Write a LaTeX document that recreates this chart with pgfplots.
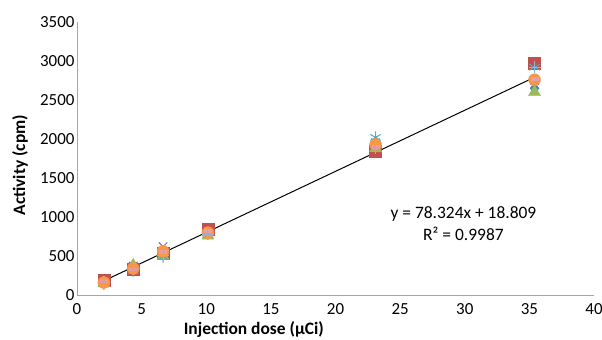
\documentclass[border=0pt]{standalone}
\usepackage{pgfplots}
\pgfplotsset{compat=1.18}
\usepackage{fontspec}
\setmainfont{Carlito}
\definecolor{s1}{HTML}{4F81BD}
\definecolor{s2}{HTML}{C0504D}
\definecolor{s3}{HTML}{9BBB59}
\definecolor{s4}{HTML}{8064A2}
\definecolor{s5}{HTML}{4BACC6}
\definecolor{s6}{HTML}{F79646}
\definecolor{s7}{HTML}{95B3D7}
\definecolor{s8}{HTML}{E6A0A0}
\definecolor{axgray}{HTML}{A6A6A6}
\begin{document}
\begin{tikzpicture}
\useasboundingbox (-77bp,-45bp) rectangle (525bp,295bp);
\begin{axis}[
  at={(0,0)}, anchor=origin,
  scale only axis, width=517bp, height=273bp,
  xmin=0, xmax=40, ymin=0, ymax=3500,
  xtick={0,5,...,40}, ytick={0,500,...,3500},
  axis x line*=bottom, axis y line*=left,
  axis line style={draw=axgray, line width=1pt, -},
  tick style={draw=none},
  ticklabel style={font=\fontsize{17}{19}\selectfont},
  xticklabel style={yshift=-5bp},
  yticklabel style={xshift=1bp},
  /pgf/number format/assume math mode=true,
  /pgf/number format/1000 sep={},
  xlabel={\textbf{Injection dose (µCi)}},
  ylabel={\textbf{Activity (cpm)}},
  label style={font=\fontsize{17.5}{19}\selectfont},
  xlabel style={at={(axis description cs:0.342,0)}, anchor=center, inner sep=0pt, yshift=-34.5bp},
  ylabel style={at={(axis description cs:-0.110,0.476)}, anchor=center, rotate=0},
  clip=false,
]
\addplot[only marks, mark=diamond*, mark size=6bp, color=s1] coordinates {(2.08,170) (4.35,340) (6.66,520) (10.13,800) (23.1,1900) (35.4,2650)};
\addplot[only marks, mark=square*, mark size=6bp, color=s2] coordinates {(2.08,190) (4.35,330) (6.66,540) (10.13,850) (23.1,1840) (35.4,2970)};
\addplot[only marks, mark=triangle*, mark size=7bp, color=s3] coordinates {(2.08,150) (4.35,380) (6.66,500) (10.13,760) (23.1,1880) (35.4,2600)};
\addplot[only marks, mark=x, mark size=6bp, line width=1pt, color=s4] coordinates {(2.08,180) (4.35,370) (6.66,620) (10.13,820) (23.1,1950) (35.4,2750)};
\addplot[only marks, mark=asterisk, mark size=6bp, line width=1pt, color=s5] coordinates {(2.08,140) (4.35,310) (6.66,490) (10.13,780) (23.1,2020) (35.4,2920)};
\addplot[only marks, mark=*, mark size=6bp, color=s6] coordinates {(2.08,160) (4.35,340) (6.66,560) (10.13,800) (23.1,1930) (35.4,2760)};
\addplot[only marks, mark=-, mark size=4bp, line width=3.5bp, color=s8] coordinates {(2.08,180) (4.35,330) (6.66,550) (10.13,820) (23.1,1900) (35.4,2770)};
\addplot[only marks, mark=+, mark size=6bp, line width=1pt, color=s7] coordinates {(2.08,170) (4.35,330) (6.66,510) (10.13,780) (23.1,1890) (35.4,2920)};
\addplot[black, line width=1pt] coordinates {(2.08,181.7) (35.4,2791.5)};
\node[align=center, font=\fontsize{17.5}{22}\selectfont] at (axis cs:29.9,910) {y = 78.324x + 18.809\\R² = 0.9987};
\end{axis}
\end{tikzpicture}
\end{document}
